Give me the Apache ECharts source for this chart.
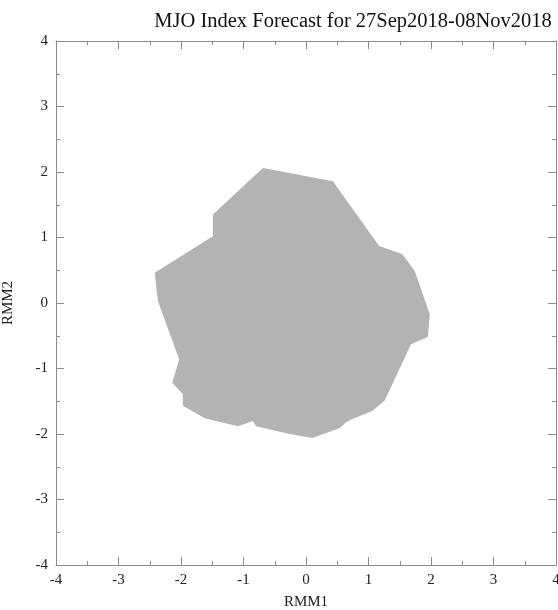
<!DOCTYPE html>
<html>
<head>
<meta charset="utf-8">
<script src="https://cdn.jsdelivr.net/npm/echarts@6/dist/echarts.min.js"></script>
<style>html,body{margin:0;padding:0;background:#fff}#c{width:558px;height:610px}</style>
</head>
<body>
<div id="c"></div>
<script>
const titleText = 'MJO Index Forecast for 27Sep2018-08Nov2018';
const xName = 'RMM1';
const yName = 'RMM2';
const axisTicks = [-4, -3, -2, -1, 0, 1, 2, 3, 4];
// polygon vertices (RMM1, RMM2)
const polyX = [-0.69, 0.43, 1.17, 1.54, 1.74, 1.98, 1.95, 1.68, 1.26, 1.06, 0.74, 0.64, 0.54, 0.10, -0.26, -0.80, -0.85, -1.09, -1.62, -1.97, -1.97, -2.14, -2.03, -2.37, -2.42, -1.49, -1.49];
const polyY = [2.06, 1.86, 0.87, 0.75, 0.49, -0.17, -0.52, -0.63, -1.49, -1.65, -1.77, -1.82, -1.91, -2.06, -2.00, -1.88, -1.80, -1.88, -1.76, -1.57, -1.39, -1.22, -0.86, 0.03, 0.46, 1.02, 1.35];

const points = polyX.map((x, i) => [x, polyY[i]]);
const font = 'Liberation Serif';
const axisCol = '#8c8c8c';

function mkAxis(pos, show, name) {
  return {
    type: 'value', position: pos, min: axisTicks[0], max: axisTicks[axisTicks.length - 1], interval: 1,
    name: name, nameLocation: 'middle',
    nameGap: pos === 'bottom' ? 30 : 40,
    nameTextStyle: { fontFamily: font, fontSize: 15, color: '#222' },
    axisLine: { show: true, onZero: false, lineStyle: { color: axisCol, width: 1 } },
    axisTick: { show: true, inside: true, length: 8, lineStyle: { color: axisCol } },
    minorTick: { show: true, splitNumber: 2, length: 4, lineStyle: { color: axisCol } },
    splitLine: { show: false },
    axisLabel: { show: show, fontFamily: font, fontSize: 15, color: '#222', margin: 8 }
  };
}

const chart = echarts.init(document.getElementById('c'), null, { renderer: 'canvas' });
chart.setOption({
  animation: false,
  backgroundColor: '#fff',
  title: { text: titleText, left: 348, top: 6, textAlign: 'center',
    textStyle: { fontFamily: font, fontSize: 20.5, fontWeight: 'normal', color: '#111' } },
  grid: { left: 56, right: 2, top: 41, bottom: 45, outerBoundsMode: 'none', containLabel: false },
  xAxis: [mkAxis('bottom', true, xName), mkAxis('top', false, '')],
  yAxis: [mkAxis('left', true, yName), mkAxis('right', false, '')],
  series: [{
    type: 'custom',
    data: [0],
    renderItem: function (params, api) {
      const pts = points.map(p => api.coord(p));
      return { type: 'polygon', shape: { points: pts }, style: { fill: '#b3b3b3', stroke: null } };
    },
    silent: true
  }]
});
</script>
</body>
</html>
